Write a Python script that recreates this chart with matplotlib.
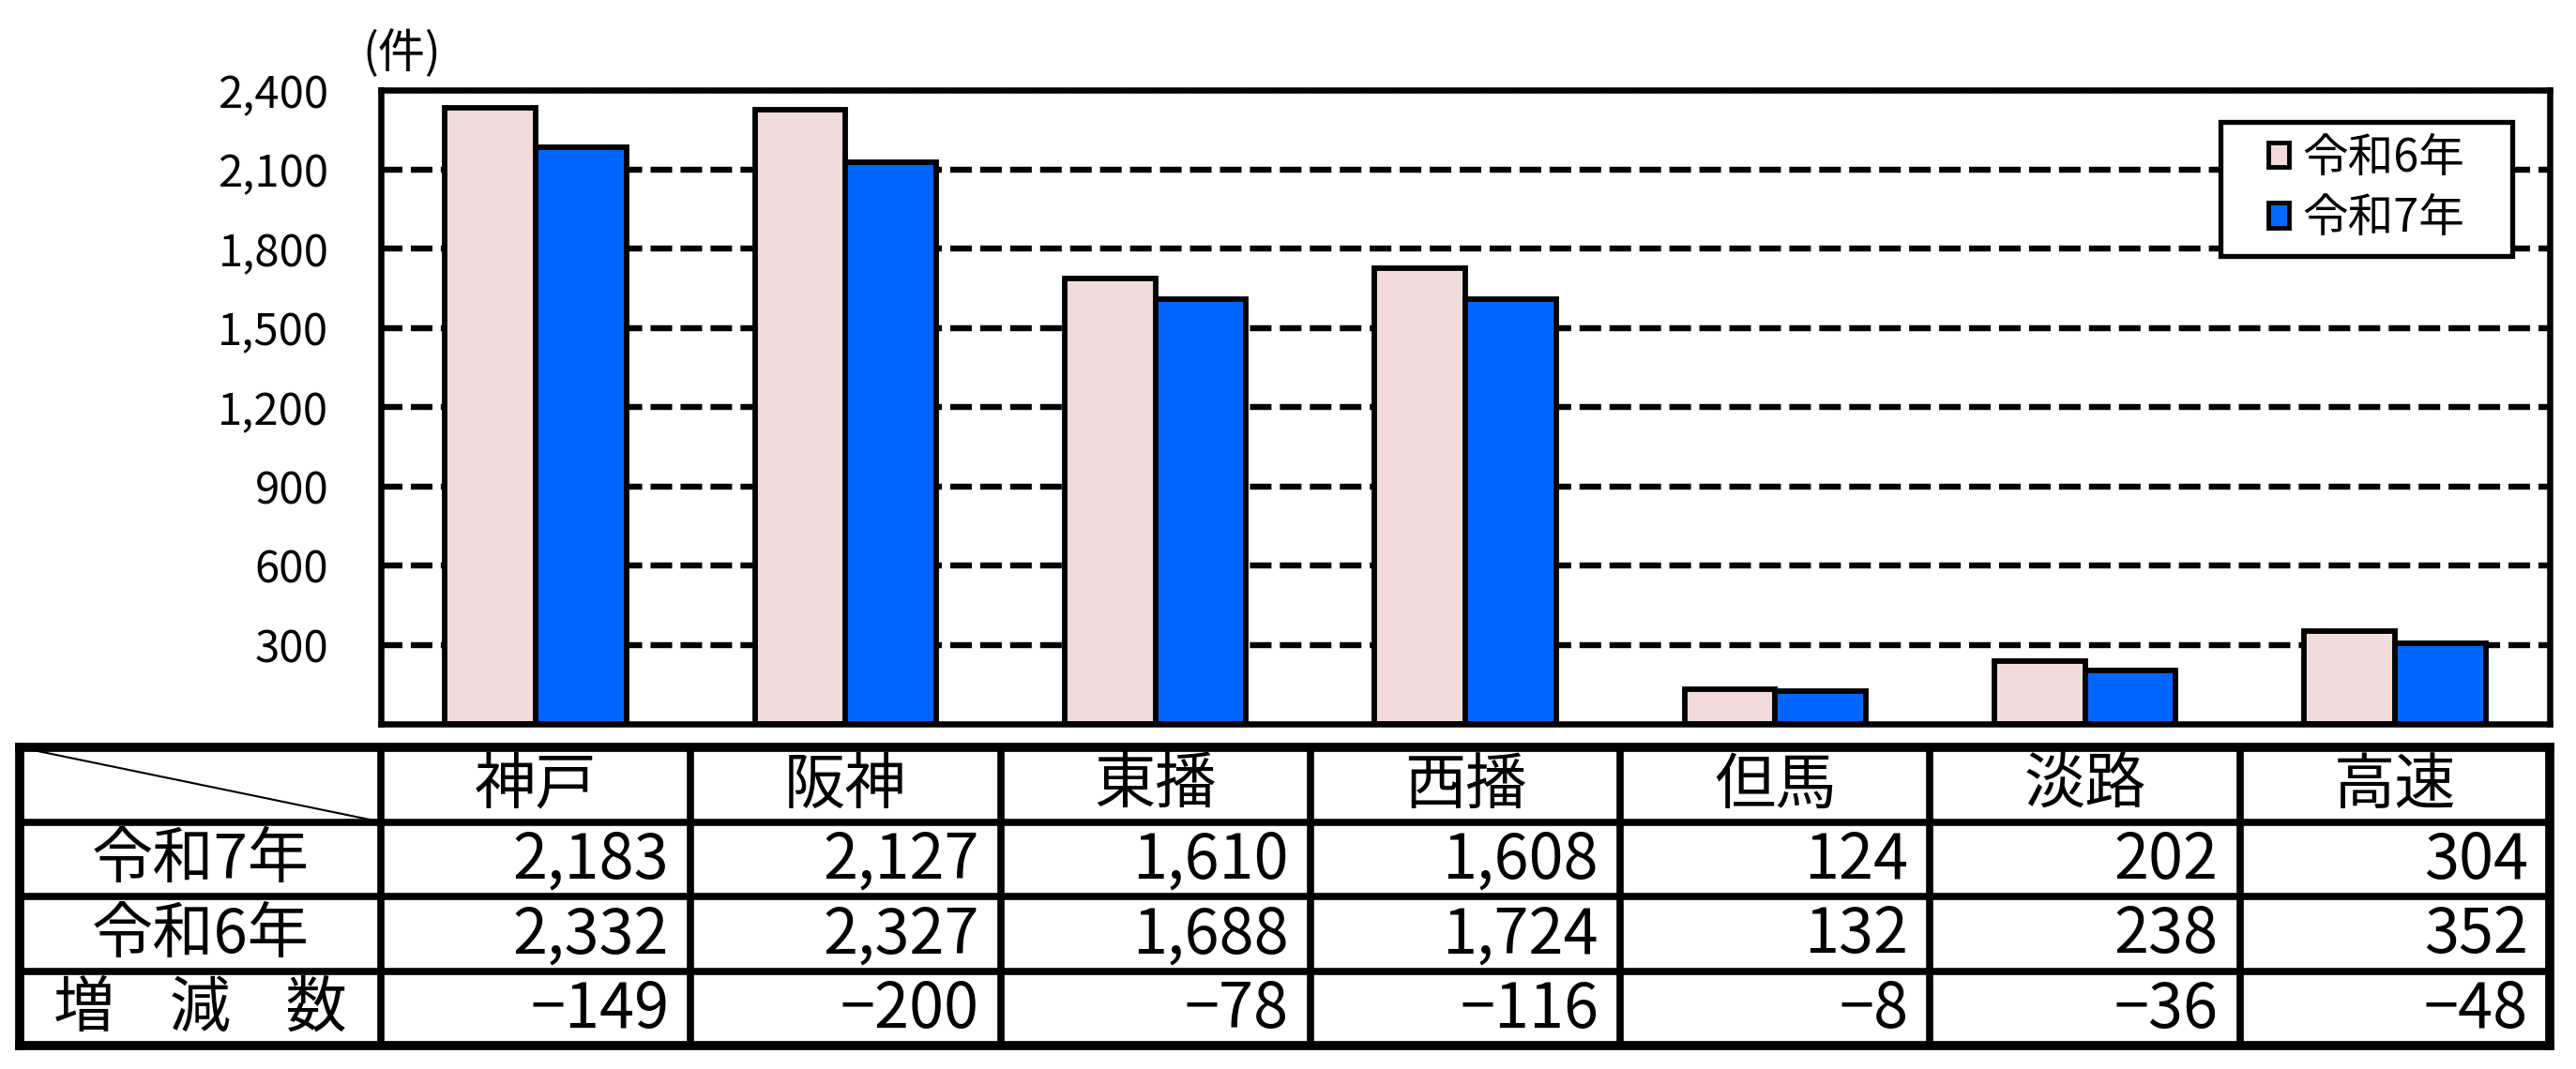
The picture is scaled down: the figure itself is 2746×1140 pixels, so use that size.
import matplotlib
matplotlib.use("Agg")
import matplotlib.pyplot as plt
from matplotlib.patches import Patch, Rectangle

plt.rcParams['font.family'] = ['Noto Sans CJK JP', 'DejaVu Sans']

# data
areas = ['神戸', '阪神', '東播', '西播', '但馬', '淡路', '高速']
r6 = [2332, 2327, 1688, 1724, 132, 238, 352]
r7 = [2183, 2127, 1610, 1608, 124, 202, 304]
diff = [-149, -200, -78, -116, -8, -36, -48]
row_names = ['令和7年', '令和6年', '増    減    数']
series_names = ['令和6年', '令和7年']
yticks = [300, 600, 900, 1200, 1500, 1800, 2100, 2400]

pink = '#F2DCDB'
blue = '#0066FF'

W, H = 2746, 1140
fig = plt.figure(figsize=(W / 100, H / 100), dpi=100)

def rect(l, t, r, b):
    return [l / W, 1 - b / H, (r - l) / W, (b - t) / H]

# bar chart
ax = fig.add_axes(rect(406, 96, 2718, 772))
x = list(range(len(areas)))
bw = 0.293
ax.bar([i - bw / 2 for i in x], r6, bw, color=pink, edgecolor='black', linewidth=4.2, zorder=3)
ax.bar([i + bw / 2 for i in x], r7, bw, color=blue, edgecolor='black', linewidth=4.2, zorder=3)
ax.set_xlim(-0.5, len(areas) - 0.5)
ax.set_ylim(0, 2400)
ax.set_xticks([])
ax.set_yticks(yticks)
ax.set_yticklabels([f'{v:,}' for v in yticks], fontsize=34)
ax.tick_params(axis='y', length=0, pad=40)
ax.yaxis.grid(True, color='black', linewidth=4.6, linestyle=(0, (3.6, 1.4)), zorder=1)
ax.set_axisbelow(True)
for s in ax.spines.values():
    s.set_linewidth(4.7)
    s.set_zorder(5)
fig.text(386 / W, 1 - 58 / H, '(件)', fontsize=36, va='center', ha='left')

# legend with manual frame
fig.patches.append(Rectangle((2367 / W, 1 - 273 / H), (2678 - 2367) / W, (273 - 130) / H,
                             transform=fig.transFigure, facecolor='white', edgecolor='black',
                             linewidth=3.8, zorder=10))
handles = [Patch(facecolor=pink, edgecolor='black', linewidth=3.5),
           Patch(facecolor=blue, edgecolor='black', linewidth=3.5)]
leg = fig.legend(handles, series_names, loc='center', bbox_to_anchor=((2367 + 2678) / 2 / W, 1 - 201 / H),
                 frameon=False, fontsize=35, handlelength=0.45, handleheight=0.45,
                 handletextpad=0.3, labelspacing=0.3, borderpad=0.2)
leg.set_zorder(11)

# table below
tax = fig.add_axes(rect(21, 797, 2718, 1115))
cw = (2718 - 406) / len(areas)
x0 = -0.5 - (406 - 21) / cw
xr = len(areas) - 0.5
tax.set_xlim(x0, xr)
tax.set_ylim(4, 0)
tax.axis('off')
for r in range(5):
    lw = 7 if r in (0, 4) else 5.5
    tax.plot([x0, xr], [r, r], color='black', linewidth=lw, clip_on=False, solid_capstyle='projecting')
for c in [x0] + [i - 0.5 for i in range(len(areas) + 1)]:
    lw = 7 if c in (x0, xr) else 5.5
    tax.plot([c, c], [0, 4], color='black', linewidth=lw, clip_on=False, solid_capstyle='projecting')
tax.plot([x0, -0.5], [0, 1], color='black', linewidth=1.5)

for i, name in enumerate(areas):
    tax.text(i, 0.52, name, fontsize=47, ha='center', va='center')
rows = [r7, r6, diff]
for r, (label, vals) in enumerate(zip(row_names, rows)):
    tax.text((x0 - 0.5) / 2, r + 1.52, label, fontsize=47, ha='center', va='center')
    for i, v in enumerate(vals):
        tax.text(i + 0.5 - 0.07, r + 1.52, f'{v:,}'.replace('-', '−'), fontsize=48,
                 ha='right', va='center')

fig.savefig('out.png', dpi=100)
